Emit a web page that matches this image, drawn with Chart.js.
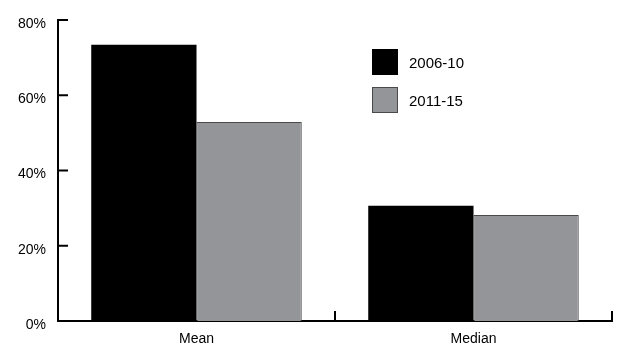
<!DOCTYPE html>
<html>
<head>
<meta charset="utf-8">
<script src="https://cdn.jsdelivr.net/npm/chart.js@4"></script>
<style>
  html, body { margin: 0; padding: 0; background: #fff; }
  #contenedor { width: 622px; height: 348px; }
</style>
</head>
<body>
<div id="contenedor"><canvas id="grafico" width="622" height="348"></canvas></div>
<script>
// datos
const categorias = ["Mean", "Median"];
const series = ["2006-10", "2011-15"];
const valores2006 = [73.4, 30.6];
const valores2011 = [52.9, 28.2];
const marcasY = [0, 20, 40, 60, 80];

const colores = ["#000000", "#939598"];
const bordes = ["#000000", "#4a4a4a"];

Chart.defaults.font.family = "'Liberation Sans', Arial, sans-serif";
Chart.defaults.font.size = 14;
Chart.defaults.color = "#000";

// marcas cortas hacia dentro en los ejes
const pluginMarcas = {
  id: "marcas",
  afterDraw(chart) {
    const ctx = chart.ctx;
    const area = chart.chartArea;
    const ejeY = chart.scales.y;
    const ejeX = chart.scales.x;
    ctx.save();
    ctx.strokeStyle = "#000";
    ctx.lineWidth = 2;
    marcasY.forEach((v) => {
      const py = ejeY.getPixelForValue(v);
      ctx.beginPath();
      ctx.moveTo(area.left, py);
      ctx.lineTo(area.left + 10, py);
      ctx.stroke();
    });
    for (let i = 0; i < categorias.length; i++) {
      const px = ejeX.getPixelForValue(i + 0.5);
      ctx.beginPath();
      ctx.moveTo(px, area.bottom);
      ctx.lineTo(px, area.bottom - 10);
      ctx.stroke();
    }
    ctx.restore();
  }
};

// leyenda dentro del area del grafico
const pluginLeyenda = {
  id: "leyendaInterna",
  afterDraw(chart) {
    const ctx = chart.ctx;
    ctx.save();
    ctx.font = "15px 'Liberation Sans', Arial, sans-serif";
    ctx.textBaseline = "middle";
    chart.data.datasets.forEach((ds, i) => {
      const x = 372;
      const y = 49 + i * 38;
      ctx.fillStyle = ds.backgroundColor;
      ctx.fillRect(x, y, 26, 26);
      if (i > 0) {
        ctx.strokeStyle = ds.borderColor;
        ctx.lineWidth = 1;
        ctx.strokeRect(x + 0.5, y + 0.5, 25, 25);
      }
      ctx.fillStyle = "#000";
      ctx.fillText(ds.label, x + 37, y + 15);
    });
    ctx.restore();
  }
};

const datos = {
  labels: categorias,
  datasets: [
    {
      label: series[0],
      data: valores2006,
      backgroundColor: colores[0],
      borderColor: bordes[0],
      borderWidth: 0
    },
    {
      label: series[1],
      data: valores2011,
      backgroundColor: colores[1],
      borderColor: bordes[1],
      borderWidth: 1
    }
  ]
};

const config = {
  type: "bar",
  data: datos,
  options: {
    responsive: false,
    devicePixelRatio: 1,
    animation: false,
    layout: { padding: { top: 20, right: 10, left: 0, bottom: 0 } },
    datasets: { bar: { categoryPercentage: 0.76, barPercentage: 1.0 } },
    plugins: {
      legend: { display: false },
      tooltip: { enabled: false }
    },
    scales: {
      x: {
        grid: { display: false },
        border: { display: true, color: "#000", width: 2 },
        ticks: { padding: 2 },
        afterFit(eje) { eje.height = 27; }
      },
      y: {
        min: 0,
        max: 80,
        grid: { display: false },
        border: { display: true, color: "#000", width: 2 },
        ticks: {
          stepSize: 20,
          padding: 4,
          labelOffset: 4,
          callback: (v) => v + "%"
        },
        afterFit(eje) { eje.width = 58; }
      }
    }
  },
  plugins: [pluginMarcas, pluginLeyenda]
};

const ctx = document.getElementById("grafico").getContext("2d");
new Chart(ctx, config);
</script>
</body>
</html>
